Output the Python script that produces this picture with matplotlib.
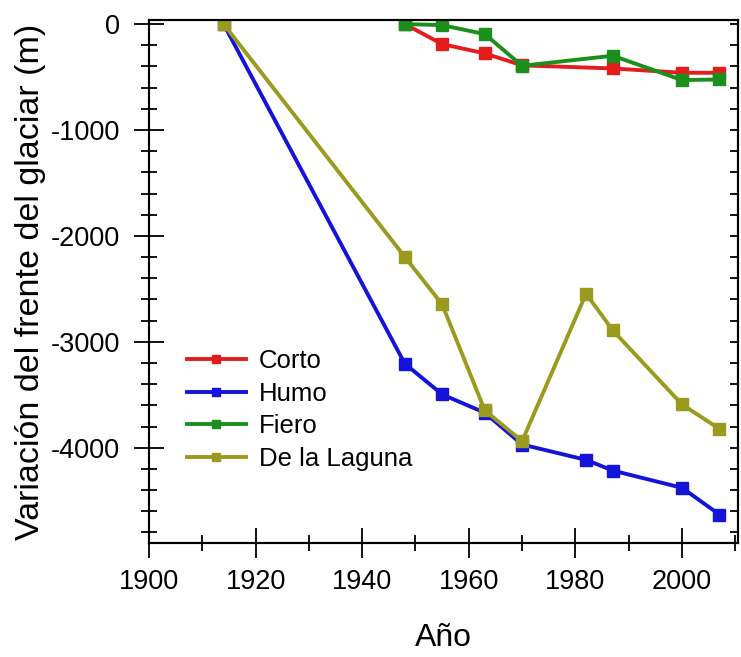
import numpy as np
import matplotlib.pyplot as plt
from matplotlib.ticker import MultipleLocator

plt.rcParams['font.family'] = ['Liberation Sans', 'DejaVu Sans']
plt.rcParams['axes.unicode_minus'] = False

# anos de observacion
anos_corto = [1948, 1955, 1963, 1970, 1987, 2000, 2007]
corto = [0, -189, -277, -390, -419, -460, -460]

anos_fiero = [1948, 1955, 1963, 1970, 1987, 2000, 2007]
fiero = [0, -10, -95, -394, -299, -529, -523]

anos_humo = [1914, 1948, 1955, 1963, 1970, 1982, 1987, 2000, 2007]
humo = [0, -3207, -3497, -3670, -3970, -4115, -4216, -4379, -4631]

anos_laguna = [1914, 1948, 1955, 1963, 1970, 1982, 1987, 2000, 2007]
laguna = [0, -2199, -2647, -3648, -3938, -2546, -2892, -3592, -3822]

fig = plt.figure(figsize=(7.41, 6.57), dpi=100)
ax = fig.add_axes([0.201, 0.1735, 0.795, 0.796])

estilo = dict(marker='s', markersize=8.5, linewidth=2.8)
ax.plot(anos_corto, corto, color='#e41c1c', label='Corto', **estilo)
ax.plot(anos_humo, humo, color='#1414d8', label='Humo', **estilo)
ax.plot(anos_fiero, fiero, color='#1b8f1b', label='Fiero', **estilo)
ax.plot(anos_laguna, laguna, color='#9a9a1e', label='De la Laguna', **estilo)

ax.set_xlim(1900, 2010.5)
ax.set_ylim(-4900, 38)
ax.xaxis.set_major_locator(MultipleLocator(20))
ax.xaxis.set_minor_locator(MultipleLocator(10))
ax.yaxis.set_major_locator(MultipleLocator(1000))
ax.yaxis.set_minor_locator(MultipleLocator(200))

ax.tick_params(axis='both', which='major', direction='inout', length=22, width=1.3,
               labelsize=19.5, pad=8)
ax.tick_params(axis='both', which='minor', direction='inout', length=11, width=1.3)
ax.tick_params(axis='y', which='major', pad=10)

# marcas interiores en el eje derecho
ax2 = ax.twinx()
ax2.set_ylim(ax.get_ylim())
ax2.yaxis.set_major_locator(MultipleLocator(200))
ax2.tick_params(axis='y', direction='in', length=6, width=1.3, labelright=False)

for a in (ax, ax2):
    for s in a.spines.values():
        s.set_linewidth(1.5)

ax.set_xlabel('Año', fontsize=23, labelpad=20)
ax.set_ylabel('Variación del frente del glaciar (m)', fontsize=24.5, labelpad=3)

ax.legend(loc='upper left', bbox_to_anchor=(0.025, 0.415), frameon=False, fontsize=18.5,
          handlelength=2.3, markerscale=0.7, labelspacing=0.33, handletextpad=0.5)

plt.savefig('out.png', dpi=100)
plt.close()
